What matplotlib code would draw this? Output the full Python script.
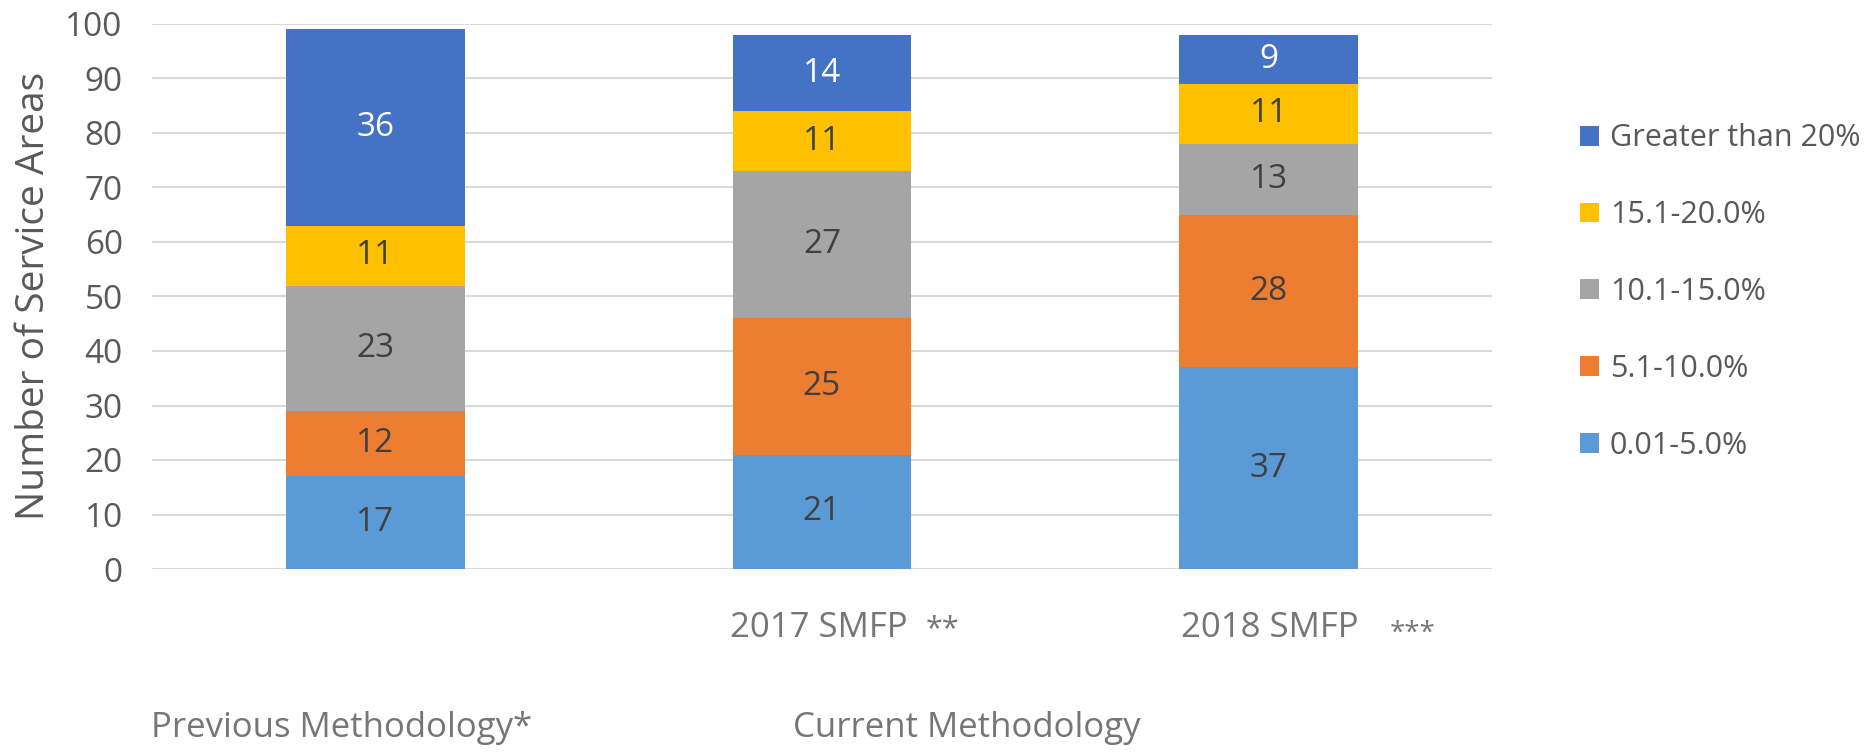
import matplotlib
matplotlib.use('Agg')
import matplotlib.pyplot as plt
import numpy as np

categories = ['Previous Methodology', '2017 SMFP', '2018 SMFP']
series_names = ['0.01-5.0%', '5.1-10.0%', '10.1-15.0%', '15.1-20.0%', 'Greater than 20%']
s_0_5 = [17, 21, 37]
s_5_10 = [12, 25, 28]
s_10_15 = [23, 27, 13]
s_15_20 = [11, 11, 11]
s_gt_20 = [36, 14, 9]
series_values = [s_0_5, s_5_10, s_10_15, s_15_20, s_gt_20]
colors = ['#5B9BD5', '#ED7D31', '#A5A5A5', '#FFC000', '#4472C4']
label_colors = ['#404040', '#404040', '#404040', '#404040', '#FFFFFF']
yticks = list(range(0, 101, 10))

plt.rcParams['font.family'] = ['Open Sans', 'DejaVu Sans']

W, H = 1875, 754
fig = plt.figure(figsize=(W / 100, H / 100), dpi=100)
ax = fig.add_axes([152 / W, 1 - 569 / H, 1340 / W, 545 / H])

x = np.arange(len(categories))
bottom = np.zeros(len(categories))
handles = []
for name, vals, col, lc in zip(series_names, series_values, colors, label_colors):
    bars = ax.bar(x, vals, 0.4, bottom=bottom, color=col, label=name, zorder=3)
    handles.append(bars)
    for xi, b, v in zip(x, bottom, vals):
        ax.text(xi, b + v / 2, str(v), ha='center', va='center', fontsize=24,
                color=lc, zorder=4)
    bottom += np.array(vals)

ax.set_xlim(-0.5, 2.5)
ax.set_ylim(0, 100)
ax.set_yticks(yticks)
ax.set_yticklabels([str(t) for t in yticks], fontsize=24, color='#595959')
ax.set_xticks([])
ax.tick_params(axis='y', length=0, pad=21)
ax.grid(axis='y', color='#D9D9D9', linewidth=1.5, zorder=0)
for sp in ax.spines.values():
    sp.set_visible(False)

fig.text(34 / W, 1 - 296 / H, 'Number of Service Areas', rotation=90, fontsize=28,
         color='#595959', ha='center', va='center')

leg = fig.legend(handles[::-1], series_names[::-1], loc='center left',
                 bbox_to_anchor=(1580 / W, 1 - 292 / H), frameon=False, fontsize=22,
                 handlelength=0.62, handleheight=0.62, handletextpad=0.36,
                 labelspacing=1.53, borderpad=0, borderaxespad=0)
for t in leg.get_texts():
    t.set_color('#595959')

# category labels
lab_col = '#767676'
fig.text(730 / W, 1 - 637 / H, '2017 SMFP', fontsize=25, color=lab_col,
         ha='left', va='baseline')
fig.text(926 / W, 1 - 637 / H, '**', fontsize=22, color=lab_col,
         ha='left', va='baseline')
fig.text(1181 / W, 1 - 637 / H, '2018 SMFP', fontsize=25, color=lab_col,
         ha='left', va='baseline')
fig.text(1390 / W, 1 - 641 / H, '***', fontsize=20, color=lab_col,
         ha='left', va='baseline')
fig.text(151 / W, 1 - 737 / H, 'Previous Methodology*', fontsize=25, color=lab_col,
         ha='left', va='baseline')
fig.text(793 / W, 1 - 737 / H, 'Current Methodology', fontsize=25, color=lab_col,
         ha='left', va='baseline')

fig.savefig('out.png', dpi=100, facecolor='white')
